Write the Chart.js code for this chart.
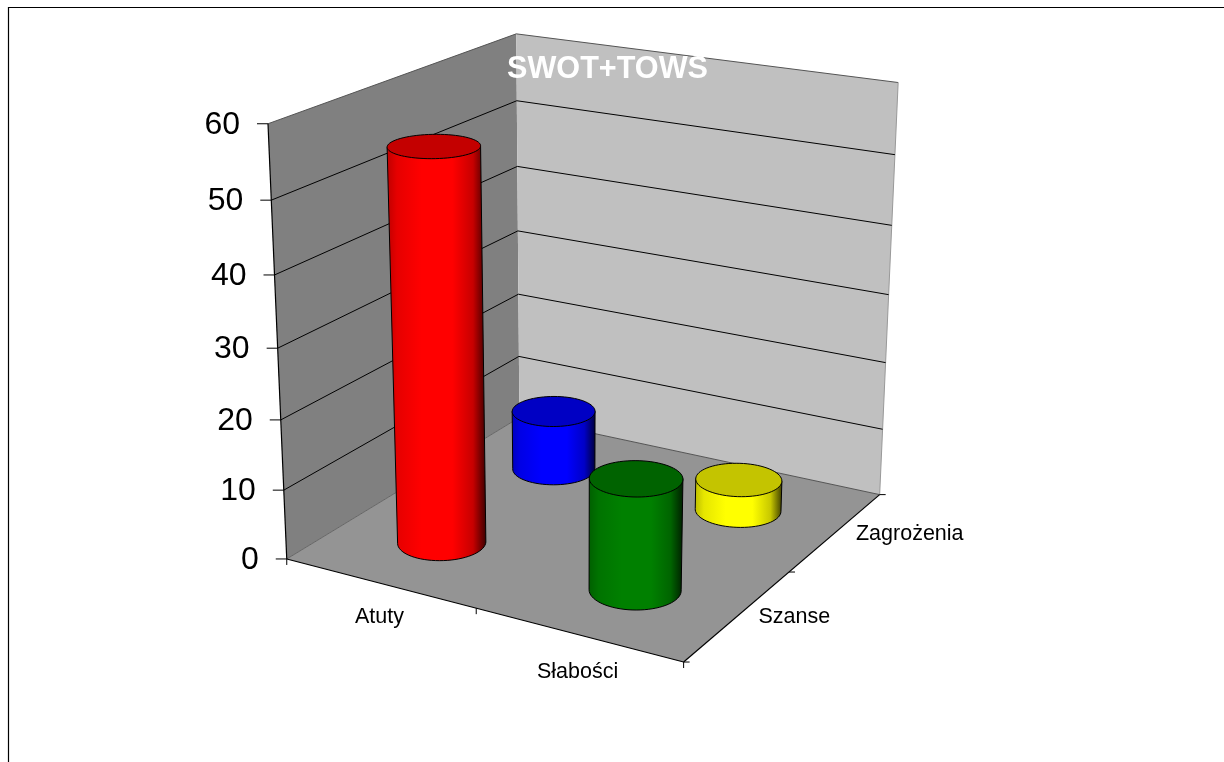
<!DOCTYPE html>
<html>
<head>
<meta charset="utf-8">
<title>SWOT+TOWS</title>
<script src="https://cdn.jsdelivr.net/npm/chart.js@4"></script>
<style>
  html, body { margin: 0; padding: 0; background: #fff; overflow: hidden; }
  canvas { display: block; }
</style>
</head>
<body>
<canvas id="chart" width="1224" height="762"></canvas>
<script>
// values
const categories = ["Atuty", "Słabości"];
const seriesNames = ["Szanse", "Zagrożenia"];
const szanseValues = [55.6, 15.7];
const zagrozeniaValues = [9, 4.6];
const seriesValues = [szanseValues, zagrozeniaValues];

// colours per cell, one row per series
const cellColors = [
    [[255, 0, 0], [0, 128, 0]],
    [[0, 0, 255], [255, 255, 0]]
];

const FONT = '"Liberation Sans", Arial, sans-serif';
const BAR_RADIUS_X = 0.1;
const BAR_RADIUS_D = 0.1;

// where the box of the 3D frame lands on the page: [x, depth, height, pageX, pageY]
const frameCorners = [
    [0, 0, 0, 287, 559], [1, 0, 0, 683, 663], [1, 1, 0, 880, 493], [0, 1, 0, 519, 418],
    [0, 0, 1, 268, 124], [0, 1, 1, 516, 33], [1, 1, 1, 898, 83],
    [0, 0, 0.5, 278, 347], [0, 1, 0.5, 518, 232], [1, 1, 0.5, 889, 295]
];

// solve the perspective matrix from the corners (least squares)
function fitProjection(points) {
    const n = 11;
    const A = [];
    for (let i = 0; i < n; i++) A.push(new Array(n + 1).fill(0));
    function addRow(row, b) {
        for (let i = 0; i < n; i++) {
            for (let j = 0; j < n; j++) A[i][j] += row[i] * row[j];
            A[i][n] += row[i] * b;
        }
    }
    points.forEach(function (p) {
        const [u, d, t, X, Y] = p;
        addRow([u, d, t, 1, 0, 0, 0, 0, -X * u, -X * d, -X * t], X);
        addRow([0, 0, 0, 0, u, d, t, 1, -Y * u, -Y * d, -Y * t], Y);
    });
    for (let c = 0; c < n; c++) {
        let best = c;
        for (let r = c + 1; r < n; r++) if (Math.abs(A[r][c]) > Math.abs(A[best][c])) best = r;
        [A[c], A[best]] = [A[best], A[c]];
        for (let r = 0; r < n; r++) {
            if (r === c) continue;
            const f = A[r][c] / A[c][c];
            for (let k = c; k <= n; k++) A[r][k] -= f * A[c][k];
        }
    }
    return A.map(function (row, i) { return row[n] / row[i]; });
}

const h = fitProjection(frameCorners);

function project(u, d, t) {
    const w = h[8] * u + h[9] * d + h[10] * t + 1;
    return {
        x: (h[0] * u + h[1] * d + h[2] * t + h[3]) / w,
        y: (h[4] * u + h[5] * d + h[6] * t + h[7]) / w
    };
}

function polygon(ctx, pts) {
    ctx.beginPath();
    pts.forEach(function (p, i) {
        if (i === 0) ctx.moveTo(p.x, p.y); else ctx.lineTo(p.x, p.y);
    });
    ctx.closePath();
}

function segment(ctx, a, b, color, width) {
    ctx.strokeStyle = color;
    ctx.lineWidth = width;
    ctx.beginPath();
    ctx.moveTo(a.x, a.y);
    ctx.lineTo(b.x, b.y);
    ctx.stroke();
}

function shade(rgb, k) {
    return "rgb(" + rgb.map(function (c) { return Math.round(c * k); }).join(",") + ")";
}

// scale value -> 0..1 along the axis
function xPos(scale, i) { return (scale.getPixelForValue(i) - scale.left) / scale.width; }
function dPos(scale, i) { return (scale.getPixelForValue(i) - scale.left) / scale.width; }
function yPos(scale, v) { return (scale.bottom - scale.getPixelForValue(v)) / scale.height; }

function drawCylinder(ctx, u, d, t, rgb) {
    const base = [], top = [];
    const steps = 72;
    for (let i = 0; i < steps; i++) {
        const a = (i / steps) * Math.PI * 2;
        const cu = u + BAR_RADIUS_X * Math.cos(a);
        const cd = d + BAR_RADIUS_D * Math.sin(a);
        base.push(project(cu, cd, 0));
        top.push(project(cu, cd, t));
    }
    let lo = 0, hi = 0;
    base.forEach(function (p, i) {
        if (p.x < base[lo].x) lo = i;
        if (p.x > base[hi].x) hi = i;
    });
    let topLo = 0, topHi = 0;
    top.forEach(function (p, i) {
        if (p.x < top[topLo].x) topLo = i;
        if (p.x > top[topHi].x) topHi = i;
    });

    const side = [top[topLo]];
    for (let i = lo; ; i = (i + 1) % steps) {
        side.push(base[i]);
        if (i === hi) break;
    }
    side.push(top[topHi]);

    const left = Math.min(base[lo].x, top[topLo].x);
    const right = Math.max(base[hi].x, top[topHi].x);
    const grad = ctx.createLinearGradient(left, 0, right, 0);
    grad.addColorStop(0, shade(rgb, 0.75));
    grad.addColorStop(0.1, shade(rgb, 0.9));
    grad.addColorStop(0.35, shade(rgb, 1));
    grad.addColorStop(0.66, shade(rgb, 1));
    grad.addColorStop(0.87, shade(rgb, 0.78));
    grad.addColorStop(1, shade(rgb, 0.25));

    polygon(ctx, side);
    ctx.fillStyle = grad;
    ctx.fill();
    ctx.strokeStyle = "#000";
    ctx.lineWidth = 1;
    ctx.stroke();

    polygon(ctx, top);
    ctx.fillStyle = shade(rgb, 0.77);
    ctx.fill();
    ctx.stroke();
}

// walls, floor, grid and outer border go under the title
const framePlugin = {
    id: "frame3d",
    beforeDraw: function (chart) {
        const ctx = chart.ctx;
        const yScale = chart.scales.y;
        ctx.save();
        ctx.fillStyle = "#fff";
        ctx.fillRect(0, 0, chart.width, chart.height);

        // outer border, only top and left fit on the page
        ctx.strokeStyle = "#000";
        ctx.lineWidth = 1.2;
        ctx.beginPath();
        ctx.moveTo(8.5, chart.height);
        ctx.lineTo(8.5, 7.5);
        ctx.lineTo(chart.width, 7.5);
        ctx.stroke();

        const wallLeft = [project(0, 0, 0), project(0, 1, 0), project(0, 1, 1), project(0, 0, 1)];
        const wallBack = [project(0, 1, 0), project(1, 1, 0), project(1, 1, 1), project(0, 1, 1)];
        const floor = [project(0, 0, 0), project(1, 0, 0), project(1, 1, 0), project(0, 1, 0)];

        polygon(ctx, wallLeft);
        ctx.fillStyle = "#808080";
        ctx.fill();
        polygon(ctx, wallBack);
        ctx.fillStyle = "#c0c0c0";
        ctx.fill();
        polygon(ctx, floor);
        ctx.fillStyle = "#949494";
        ctx.fill();

        segment(ctx, project(0, 0, 1), project(0, 1, 1), "#555", 1);
        segment(ctx, project(0, 1, 1), project(1, 1, 1), "#555", 1);
        segment(ctx, project(1, 1, 1), project(1, 1, 0), "#999", 1);
        segment(ctx, project(0, 0, 0), project(0, 1, 0), "#666", 1);
        segment(ctx, project(0, 1, 0), project(1, 1, 0), "#555", 1);

        yScale.ticks.forEach(function (tick) {
            const t = yPos(yScale, tick.value);
            if (tick.value > 0 && tick.value < yScale.max) {
                segment(ctx, project(0, 0, t), project(0, 1, t), "#000", 1);
                segment(ctx, project(0, 1, t), project(1, 1, t), "#000", 1);
            }
        });
        ctx.restore();
    },
    afterDatasetsDraw: function (chart) {
        const ctx = chart.ctx;
        const xScale = chart.scales.x;
        const dScale = chart.scales.d;
        const yScale = chart.scales.y;
        ctx.save();

        // axis lines
        segment(ctx, project(0, 0, 0), project(0, 0, 1), "#000", 1.2);
        segment(ctx, project(0, 0, 0), project(1, 0, 0), "#000", 1.2);
        segment(ctx, project(1, 0, 0), project(1, 1, 0), "#000", 1.2);

        // value axis
        ctx.fillStyle = "#000";
        ctx.font = "32px " + FONT;
        ctx.textAlign = "right";
        ctx.textBaseline = "middle";
        yScale.ticks.forEach(function (tick) {
            const p = project(0, 0, yPos(yScale, tick.value));
            segment(ctx, p, { x: p.x - 11, y: p.y }, "#000", 1);
            ctx.fillText(String(tick.value), p.x - 28, p.y + 1);
        });

        // category axis, labels sit mid cell, ticks between cells
        ctx.font = "21.5px " + FONT;
        ctx.textAlign = "center";
        categories.forEach(function (name, i) {
            const u = xPos(xScale, i);
            const p = project(u, 0, 0);
            ctx.fillText(name, p.x, p.y + 32 + 8 * u);
        });
        [0, 0.5, 1].forEach(function (u) {
            const p = project(u, 0, 0);
            segment(ctx, p, { x: p.x, y: p.y + 6 }, "#000", 1);
        });

        // depth axis
        ctx.textAlign = "left";
        seriesNames.forEach(function (name, i) {
            const p = project(1, dPos(dScale, i), 0);
            ctx.fillText(name, p.x + 20, p.y + 2);
        });
        [0, 0.5, 1].forEach(function (d) {
            const p = project(1, d, 0);
            segment(ctx, p, { x: p.x + 6, y: p.y }, "#000", 1);
        });

        // back row first so the front row covers it
        for (let s = seriesNames.length - 1; s >= 0; s--) {
            categories.forEach(function (name, i) {
                drawCylinder(ctx, xPos(xScale, i), dPos(dScale, s), yPos(yScale, seriesValues[s][i]), cellColors[s][i]);
            });
        }
        ctx.restore();
    }
};

new Chart(document.getElementById("chart").getContext("2d"), {
    type: "bar",
    data: {
        labels: categories,
        datasets: seriesNames.map(function (name, s) {
            return { label: name, data: seriesValues[s], backgroundColor: "transparent" };
        })
    },
    options: {
        responsive: false,
        animation: false,
        events: [],
        layout: { padding: { right: 9 } },
        plugins: {
            legend: { display: false },
            tooltip: { enabled: false },
            title: {
                display: true,
                text: "SWOT+TOWS",
                color: "#fff",
                font: { family: FONT, size: 30.6, weight: "bold" },
                padding: { top: 51, bottom: 0 }
            }
        },
        scales: {
            x: { type: "category", display: false },
            d: { type: "category", axis: "x", labels: seriesNames, display: false },
            y: { type: "linear", min: 0, max: 60, ticks: { stepSize: 10 }, display: false }
        }
    },
    plugins: [framePlugin]
});
</script>
</body>
</html>
